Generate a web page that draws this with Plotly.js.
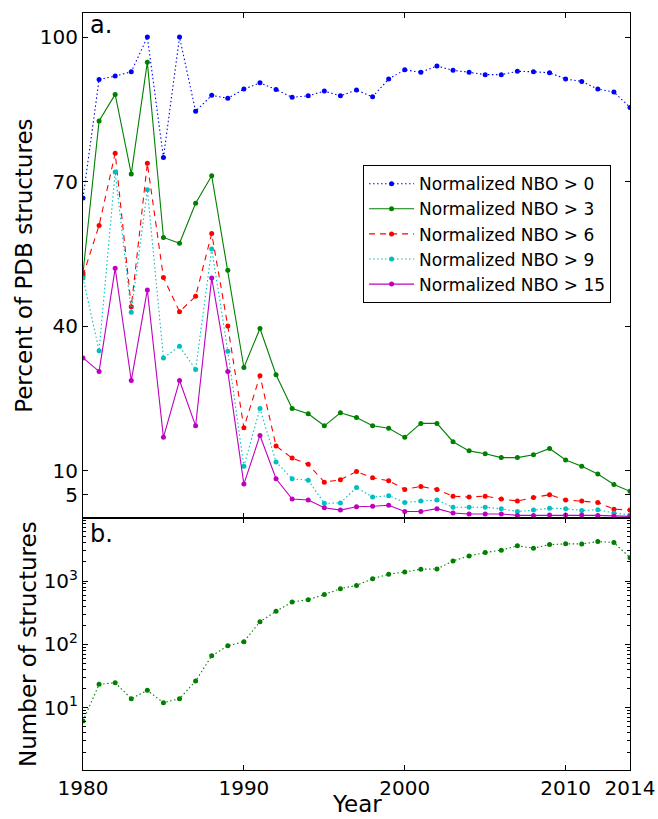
<!DOCTYPE html>
<html>
<head>
<meta charset="utf-8">
<script src="https://cdn.plot.ly/plotly-3.0.1.min.js"></script>
<style>html,body{margin:0;padding:0;background:#fff;}#chart{width:658px;height:819px;}</style>
</head>
<body>
<div id="chart"></div>
<script>
var years = [1980,1981,1982,1983,1984,1985,1986,1987,1988,1989,1990,1991,1992,1993,1994,1995,1996,1997,1998,1999,2000,2001,2002,2003,2004,2005,2006,2007,2008,2009,2010,2011,2012,2013,2014];

var nbo0  = [66.6,91.2,91.9,92.8,100,75.0,100,84.6,87.9,87.3,89.2,90.5,89.1,87.5,87.8,88.8,87.8,89.0,87.6,91.3,93.2,92.7,94.0,93.1,92.7,92.2,92.2,92.9,92.8,92.6,91.3,90.8,89.2,88.6,85.4];
var nbo3  = [51.0,82.6,88.1,71.6,94.8,58.4,57.2,65.5,71.2,51.6,31.4,39.5,29.9,22.9,21.8,19.3,22.0,21.0,19.3,18.8,16.9,19.8,19.8,16.0,14.1,13.5,12.7,12.7,13.3,14.6,12.2,10.9,9.3,7.1,5.7];
var nbo6  = [50.5,60.9,75.9,44.0,73.8,50.1,43.0,46.2,59.2,40.0,18.9,29.7,15.1,12.6,11.3,7.6,8.1,9.8,8.5,7.9,6.1,6.7,6.1,4.7,4.5,4.7,4.1,3.7,4.4,5.0,3.9,3.7,3.4,2.0,1.8];
var nbo9  = [50.0,34.9,72.0,42.9,68.3,33.4,35.8,31.0,56.0,34.8,10.9,22.9,11.8,8.3,8.0,3.2,3.3,6.5,4.5,4.8,3.4,3.7,3.9,2.4,2.4,2.4,2.1,1.5,1.8,2.2,2.1,1.7,1.9,1.2,0.8];
var nbo15 = [33.4,30.6,52.0,28.7,47.5,16.9,28.7,19.3,50.0,30.6,7.2,17.3,8.3,4.1,3.9,2.3,1.8,2.5,2.6,2.8,1.5,1.5,2.1,1.2,1.0,1.0,1.0,0.7,0.7,0.8,0.8,0.8,0.7,0.6,0.5];

var counts = [6.2,23.4,24.8,13.9,18.8,12.0,13.9,26.4,66,95,110,228,333,467,508,610,758,853,1090,1280,1390,1535,1550,2075,2490,2810,3070,3590,3300,3760,3860,3850,4190,4050,2340];

var seriesNames = ['Normalized NBO > 0','Normalized NBO > 3','Normalized NBO > 6','Normalized NBO > 9','Normalized NBO > 15'];
var yTickVals = [5,10,40,70,100];
var xTickVals = [1980,1990,2000,2010,2014];
var logTickVals = [10,100,1000];
var logTickText = ['10<sup>1</sup>','10<sup>2</sup>','10<sup>3</sup>'];

var series = [nbo0,nbo3,nbo6,nbo9,nbo15];
var colors = ['#0000ff','#008000','#ff0000','#00bfbf','#bf00bf'];
var dashes = ['1.5px,2.5px','solid','6px,5px','1.5px,2.5px','solid'];

var traces = [];
for (var i = 0; i < series.length; i++) {
  traces.push({
    x: years, y: series[i], name: seriesNames[i], type: 'scatter', mode: 'lines+markers',
    xaxis: 'x', yaxis: 'y',
    line: {color: colors[i], width: 1.1, dash: dashes[i]},
    marker: {color: colors[i], size: 5}
  });
}
traces.push({
  x: years, y: counts, name: 'Number', type: 'scatter', mode: 'lines+markers',
  xaxis: 'x2', yaxis: 'y2', showlegend: false,
  line: {color: '#008000', width: 1.1, dash: '1.5px,2.5px'},
  marker: {color: '#008000', size: 5}
});

var minorVals = [];
[1,10,100,1000].forEach(function(d){ for (var k = 2; k <= 9; k++) minorVals.push(k*d); });

var font = {family: 'DejaVu Sans, sans-serif', color: '#000'};
var axBase = {
  showline: true, linecolor: '#000', linewidth: 1, mirror: 'ticks',
  ticks: 'inside', ticklen: 5, tickwidth: 1, tickcolor: '#000',
  showgrid: false, zeroline: false,
  tickfont: {family: 'DejaVu Sans, sans-serif', size: 20, color: '#000'}
};
function ax(extra) { var o = JSON.parse(JSON.stringify(axBase)); for (var k in extra) o[k] = extra[k]; return o; }

var layout = {
  width: 658, height: 819,
  margin: {l: 82.5, r: 27.5, t: 13, b: 49, pad: 0},
  paper_bgcolor: '#fff', plot_bgcolor: '#fff',
  font: font,
  showlegend: true,
  legend: {
    x: 0.512, y: 0.799, xanchor: 'left', yanchor: 'top',
    bordercolor: '#000', borderwidth: 1, bgcolor: '#fff',
    font: {family: 'DejaVu Sans, sans-serif', size: 17, color: '#000'},
    itemwidth: 45
  },
  xaxis: ax({domain: [0, 1], range: [1980, 2014], tickmode: 'array', tickvals: xTickVals, showticklabels: false, anchor: 'y'}),
  yaxis: ax({domain: [0.3325, 1], range: [0.1, 105], tickmode: 'array', tickvals: yTickVals, anchor: 'x',
    title: {text: 'Percent of PDB structures', font: {family: 'DejaVu Sans, sans-serif', size: 23, color: '#000'}, standoff: 0}}),
  xaxis2: ax({domain: [0, 1], range: [1980, 2014], tickmode: 'array', tickvals: xTickVals, anchor: 'y2', matches: 'x'}),
  yaxis2: ax({domain: [0, 0.3325], type: 'log', range: [0.017, 3.99], tickmode: 'array', tickvals: logTickVals, ticktext: logTickText, anchor: 'x2',
    minor: {tickmode: 'array', tickvals: minorVals, ticks: 'inside', ticklen: 3, tickcolor: '#000', tickwidth: 1},
    title: {text: 'Number of structures', font: {family: 'DejaVu Sans, sans-serif', size: 23, color: '#000'}, standoff: 0}}),
  annotations: [
    {text: 'a.', xref: 'x domain', yref: 'y domain', x: 0.01, y: 0.977, xanchor: 'left', yanchor: 'middle', showarrow: false,
      font: {family: 'DejaVu Sans, sans-serif', size: 24, color: '#000'}},
    {text: 'b.', xref: 'x2 domain', yref: 'y2 domain', x: 0.01, y: 0.938, xanchor: 'left', yanchor: 'middle', showarrow: false,
      font: {family: 'DejaVu Sans, sans-serif', size: 24, color: '#000'}},
    {text: 'Year', xref: 'paper', yref: 'paper', x: 0.5, y: -0.0645, xanchor: 'center', yanchor: 'bottom', showarrow: false,
      font: {family: 'DejaVu Sans, sans-serif', size: 23, color: '#000'}}
  ]
};

Plotly.newPlot('chart', traces, layout, {staticPlot: true, displayModeBar: false});
</script>
</body>
</html>
